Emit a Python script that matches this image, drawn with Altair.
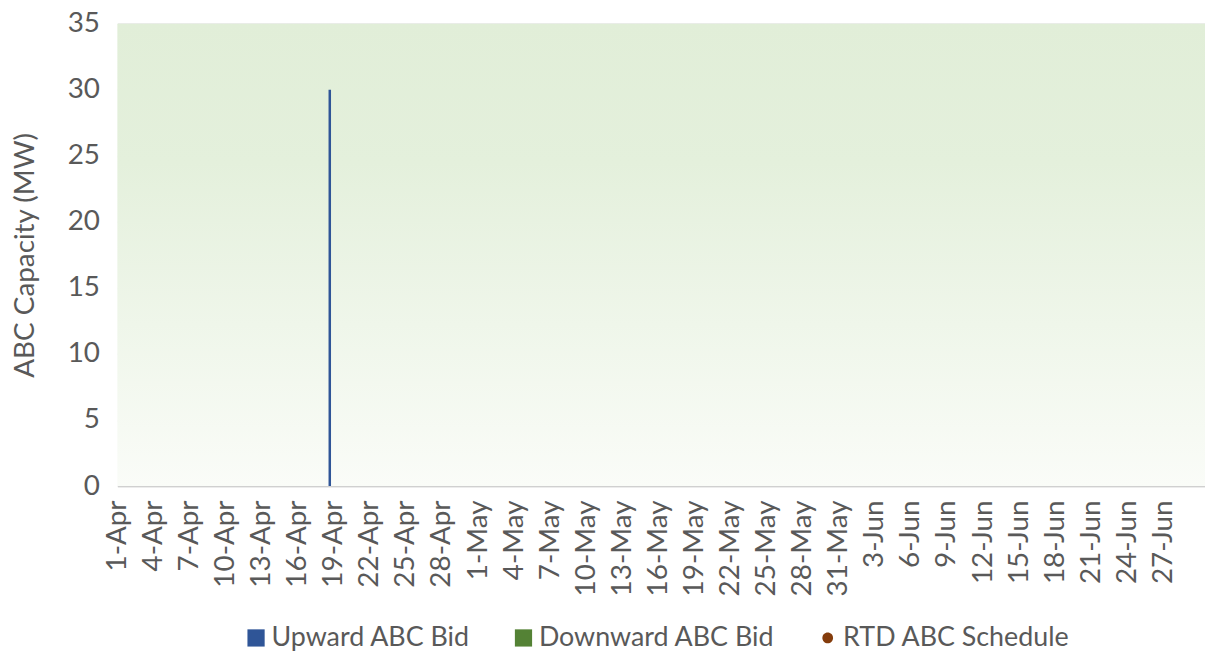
import altair as alt
import pandas as pd

# ---- data ----
series_names = ["Upward ABC Bid", "Downward ABC Bid", "RTD ABC Schedule"]
series_colors = ["#2F5597", "#548235", "#843C0C"]
bid_times = ["2024-04-18T16:00:00Z"]
bid_values = [30]
bid_series = ["Upward ABC Bid"]
tick_dates = pd.date_range("2024-04-01", "2024-06-27", freq="3D")
y_ticks = [0, 5, 10, 15, 20, 25, 30, 35]

FONT = "Lato"
TXT = "#595959"
FS = 28
W, H = 1094, 465

df = pd.DataFrame({"time": bid_times, "value": bid_values, "series": bid_series})
legend_df = pd.DataFrame({"series": series_names, "value": [0, 0, 0],
                          "time": ["2024-04-01T00:00:00Z"] * 3})

x_dom = [alt.DateTime(year=2024, month=4, date=1, utc=True),
         alt.DateTime(year=2024, month=6, date=30, hours=11, utc=True)]
tick_vals = [alt.DateTime(year=d.year, month=d.month, date=d.day, utc=True) for d in tick_dates]

bg = alt.Chart(pd.DataFrame({"a": [0]})).mark_rect(
    color=alt.Gradient(gradient="linear", x1=0, x2=0, y1=0, y2=1,
                       stops=[alt.GradientStop(color="#E1EED8", offset=0),
                              alt.GradientStop(color="#E4F0DC", offset=0.3),
                              alt.GradientStop(color="#FAFCF8", offset=1)])
).encode(x=alt.value(0), x2=alt.value(W), y=alt.value(0), y2=alt.value(H))

x_enc = alt.X("time:T",
              scale=alt.Scale(type="utc", domain=x_dom, nice=False),
              axis=alt.Axis(title=None, values=tick_vals,
                            labelExpr="utcFormat(datum.value, '%-d-%b')",
                            labelAngle=270, labelAlign="right", labelBaseline="middle",
                            labelFont=FONT, labelFontSize=FS, labelColor=TXT,
                            labelPadding=14, ticks=False, grid=False,
                            domainColor="#D0D0D0", domainWidth=1.5,
                            labelOverlap=False, labelBound=False, labelFlush=False))
y_enc = alt.Y("value:Q",
              scale=alt.Scale(domain=[0, 35], nice=False),
              axis=alt.Axis(title="ABC Capacity (MW)", values=y_ticks,
                            labelFont=FONT, labelFontSize=FS, labelColor=TXT,
                            titleFont=FONT, titleFontSize=FS, titleColor=TXT,
                            titleFontWeight="normal", titlePadding=28,
                            labelPadding=18, ticks=False, domain=False,
                            gridColor="#D9D9D9", gridWidth=1.5))

legend_props = dict(title=None, orient="none", legendX=126, legendY=604,
                    direction="horizontal",
                    labelFont=FONT, labelFontSize=27, labelColor=TXT,
                    labelLimit=0, symbolSize=300, symbolOpacity=1,
                    symbolStrokeWidth=0, columnPadding=40,
                    symbolOffset=0, labelOffset=2)

color_enc = alt.Color("series:N",
                      scale=alt.Scale(domain=series_names, range=series_colors),
                      legend=alt.Legend(**legend_props))

bars = alt.Chart(df).mark_rule(strokeWidth=2.5).encode(
    x=x_enc,
    y=y_enc,
    y2=alt.datum(0),
    color=color_enc,
)

legend_layer = alt.Chart(legend_df).mark_point(filled=True, size=300).encode(
    x=x_enc,
    y=y_enc,
    opacity=alt.value(0),
    color=color_enc,
    shape=alt.Shape("series:N",
                    scale=alt.Scale(domain=series_names,
                                    range=["square", "square",
                                           "M-0.62,0A0.62,0.62 0 1,1 0.62,0A0.62,0.62 0 1,1 -0.62,0Z"]),
                    legend=alt.Legend(**legend_props)),
)

chart = alt.layer(bg, bars, legend_layer).properties(
    width=W, height=H,
    padding={"left": 3, "top": 0, "right": 0, "bottom": 0},
).configure_view(stroke=None)

chart.save("out.html", embed_options={"renderer": "svg", "actions": False})
